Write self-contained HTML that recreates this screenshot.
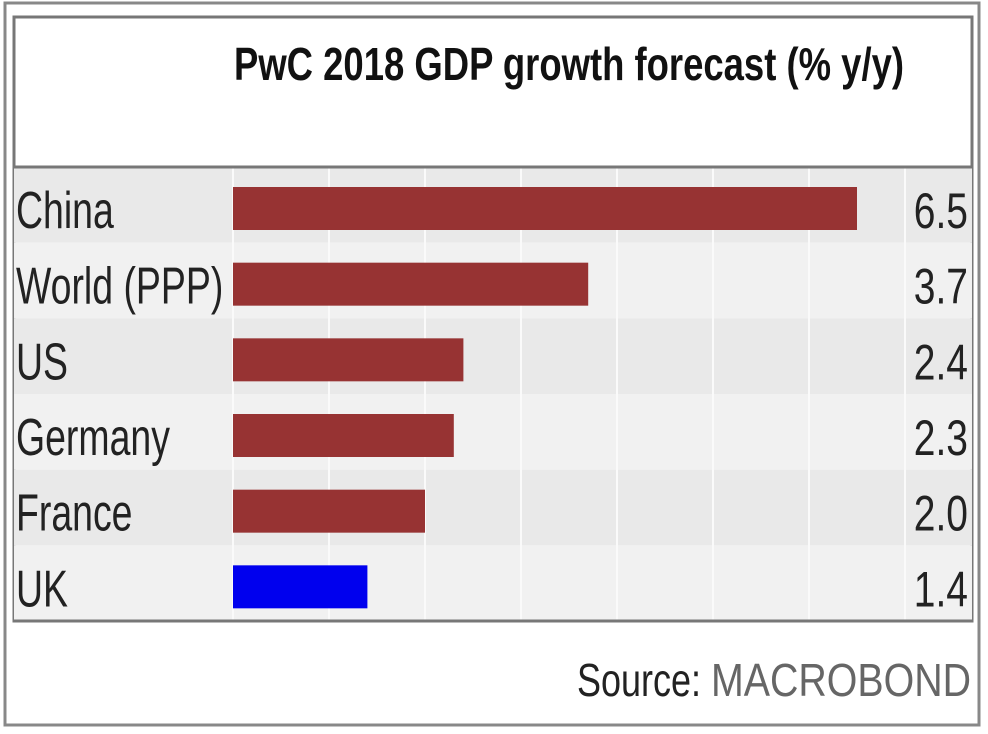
<!DOCTYPE html>
<html><head><meta charset="utf-8"><style>
html,body{margin:0;padding:0;background:#fff;}
svg{display:block;}
text{font-family:"Liberation Sans",sans-serif;}
</style></head><body>
<svg id="chart" width="988" height="734" viewBox="0 0 988 734" xmlns="http://www.w3.org/2000/svg">
<rect x="5" y="3" width="974" height="722" fill="#fff" stroke="#888" stroke-width="3"/>
<rect x="14" y="17" width="958" height="604" fill="#fff" stroke="#777" stroke-width="3"/>
<g id="plot"></g>
<line x1="14" y1="167" x2="972" y2="167" stroke="#777" stroke-width="3"/>
<line x1="14" y1="621" x2="972" y2="621" stroke="#777" stroke-width="3"/>
<text x="234" y="80" font-size="46" font-weight="bold" fill="#111" textLength="670" lengthAdjust="spacingAndGlyphs">PwC 2018 GDP growth forecast (% y/y)</text>
<text x="577" y="696" font-size="46" fill="#222" textLength="124" lengthAdjust="spacingAndGlyphs">Source:</text>
<text x="711" y="696" font-size="46" fill="#666" textLength="260" lengthAdjust="spacingAndGlyphs">MACROBOND</text>
</svg>
<script>
const categories = ["China","World (PPP)","US","Germany","France","UK"];
const values = [6.5,3.7,2.4,2.3,2.0,1.4];
const valueLabels = ["6.5","3.7","2.4","2.3","2.0","1.4"];
const gridTicks = [0,1,2,3,4,5,6,7];
const barColors = ["#973333","#973333","#973333","#973333","#973333","#0000ee"];

const NS="http://www.w3.org/2000/svg";
const plotG=document.getElementById('plot');
const x0=233, unit=96, plotTop=167, plotBottom=621, rowH=(plotBottom-plotTop)/categories.length;
function xs(v){return x0+v*unit;}
function mk(tag,attrs){const e=document.createElementNS(NS,tag);for(const k in attrs)e.setAttribute(k,attrs[k]);plotG.appendChild(e);return e;}
categories.forEach((c,i)=>{
  const b=mk('rect',{x:14,y:plotTop+i*rowH,width:958,height:rowH,fill:i%2===0?'#e9e9e9':'#f1f1f1'});
  
  
});
gridTicks.forEach(t=>{
  const l=mk('line',{x1:xs(t),y1:plotTop,x2:xs(t),y2:plotBottom,stroke:'#fafafa','stroke-width':2});
  
  
});
categories.forEach((c,i)=>{
  const y=plotTop+i*rowH;
  const r=mk('rect',{x:xs(0),y:y+20,width:xs(values[i])-xs(0),height:43,fill:barColors[i]});
  
  
  const t=mk('text',{x:16,y:y+61,'font-size':52,fill:'#222',transform:'translate(16 0) scale(0.72 1) translate(-16 0)'});
  t.textContent=c;
  
  
  const v=mk('text',{x:968,y:y+61,'font-size':50,fill:'#222','text-anchor':'end',transform:'translate(968 0) scale(0.78 1) translate(-968 0)'});
  v.textContent=valueLabels[i];
  
  
});
</script>
</body></html>
